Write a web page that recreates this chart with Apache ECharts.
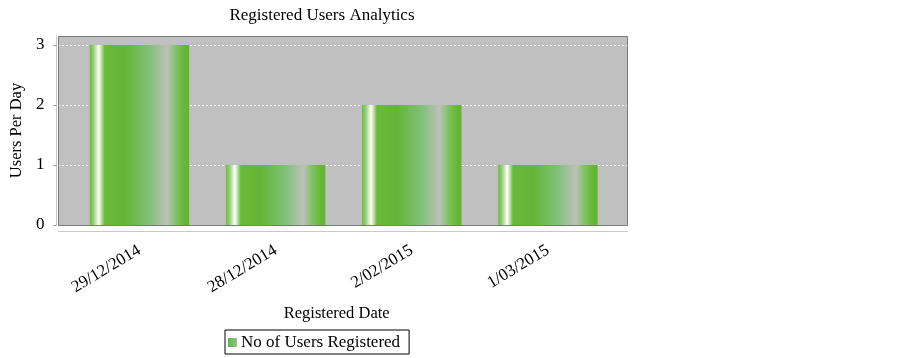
<!DOCTYPE html>
<html>
<head>
<meta charset="utf-8">
<script src="https://cdn.jsdelivr.net/npm/echarts@6/dist/echarts.min.js"></script>
<style>
  html, body { margin: 0; padding: 0; background: #fff; }
  #main { width: 903px; height: 358px; }
</style>
</head>
<body>
<div id="main"></div>
<script>
var categories = ['29/12/2014', '28/12/2014', '2/02/2015', '1/03/2015'];
var usersRegistered = [3, 1, 2, 1];
var yTicks = [0, 1, 2, 3];
var seriesName = 'No of Users Registered';

var chart = echarts.init(document.getElementById('main'));
var serif = 'Liberation Serif';

// JFreeChart style gradient bar
var barFill = new echarts.graphic.LinearGradient(0, 0, 1, 0, [
  { offset: 0, color: '#6cb93e' },
  { offset: 0.04, color: '#9bd07c' },
  { offset: 0.09, color: '#ffffff' },
  { offset: 0.15, color: '#6ab93a' },
  { offset: 0.35, color: '#64b535' },
  { offset: 0.6, color: '#80c178' },
  { offset: 0.78, color: '#bdc0ba' },
  { offset: 0.86, color: '#84c26c' },
  { offset: 0.95, color: '#66b834' },
  { offset: 1, color: '#60b52c' }
]);
var legendFill = new echarts.graphic.LinearGradient(0, 0, 1, 0, [
  { offset: 0, color: '#5cb548' },
  { offset: 1, color: '#8fc88a' }
]);

var option = {
  animation: false,
  textStyle: { fontFamily: serif },
  title: {
    text: 'Registered Users Analytics',
    left: 317,
    textAlign: 'center',
    top: 2,
    textStyle: { fontFamily: serif, fontSize: 17, fontWeight: 'normal', color: '#000' }
  },
  legend: {
    left: 225,
    top: 330,
    padding: [4, 9, 3, 3],
    borderColor: '#000',
    borderWidth: 1,
    itemWidth: 9,
    itemHeight: 9,
    itemGap: 4,
    icon: 'rect',
    textStyle: { fontFamily: serif, fontSize: 17, color: '#000', padding: [0, 0, 0, -1] },
    data: [{ name: seriesName, itemStyle: { color: legendFill } }]
  },
  grid: [
    { left: 68, right: 287, top: 36, bottom: 133 },
    { left: 58, right: 276, top: 36, bottom: 133 }
  ],
  xAxis: [
    {
      type: 'category',
      gridIndex: 0,
      data: categories,
      offset: 6,
      name: 'Registered Date',
      nameLocation: 'middle',
      nameGap: 74,
      nameTextStyle: { fontFamily: serif, fontSize: 16.5, color: '#000', padding: [0, 14, 0, 0] },
      axisLine: { show: false },
      axisTick: { alignWithLabel: true, length: 4, lineStyle: { color: '#999' } },
      axisLabel: { rotate: 31, fontFamily: serif, fontSize: 17, color: '#000', margin: 18 }
    },
    { type: 'value', gridIndex: 1, show: false }
  ],
  yAxis: [
    {
      type: 'value',
      gridIndex: 0,
      min: 0,
      max: 3.15,
      interval: 1,
      offset: 15,
      name: 'Users Per Day',
      nameLocation: 'middle',
      nameGap: 25,
      nameTextStyle: { fontFamily: serif, fontSize: 16.5, color: '#000' },
      axisLine: { show: true, lineStyle: { color: '#c8c8c8' } },
      axisTick: { show: true, length: 3, customValues: yTicks, lineStyle: { color: '#999' } },
      axisLabel: {
        fontFamily: serif, fontSize: 17, color: '#000', margin: 12,
        customValues: yTicks
      },
      splitLine: { show: false }
    },
    {
      type: 'value',
      gridIndex: 1,
      min: 0,
      max: 3.15,
      interval: 1,
      axisLine: { show: false },
      axisTick: { show: false },
      axisLabel: { show: false },
      splitLine: { show: true, lineStyle: { color: '#ffffff', type: [2, 2], width: 1 } }
    }
  ],
  graphic: [
    {
      type: 'rect', z: -10, silent: true,
      shape: { x: 58, y: 36, width: 569, height: 189 },
      style: { fill: '#c0c0c0' }
    },
    {
      type: 'rect', z: 100, silent: true,
      shape: { x: 58.5, y: 36.5, width: 569, height: 189 },
      style: { fill: null, stroke: '#7a7a7a', lineWidth: 1 }
    },
    {
      type: 'line', z: 100, silent: true,
      shape: { x1: 58, y1: 231.5, x2: 628, y2: 231.5 },
      style: { stroke: '#c8c8c8', lineWidth: 1 }
    }
  ],
  series: [
    {
      name: seriesName,
      type: 'bar',
      xAxisIndex: 0,
      yAxisIndex: 0,
      data: usersRegistered,
      barCategoryGap: '27%',
      itemStyle: { color: barFill }
    }
  ]
};

chart.setOption(option);
</script>
</body>
</html>
